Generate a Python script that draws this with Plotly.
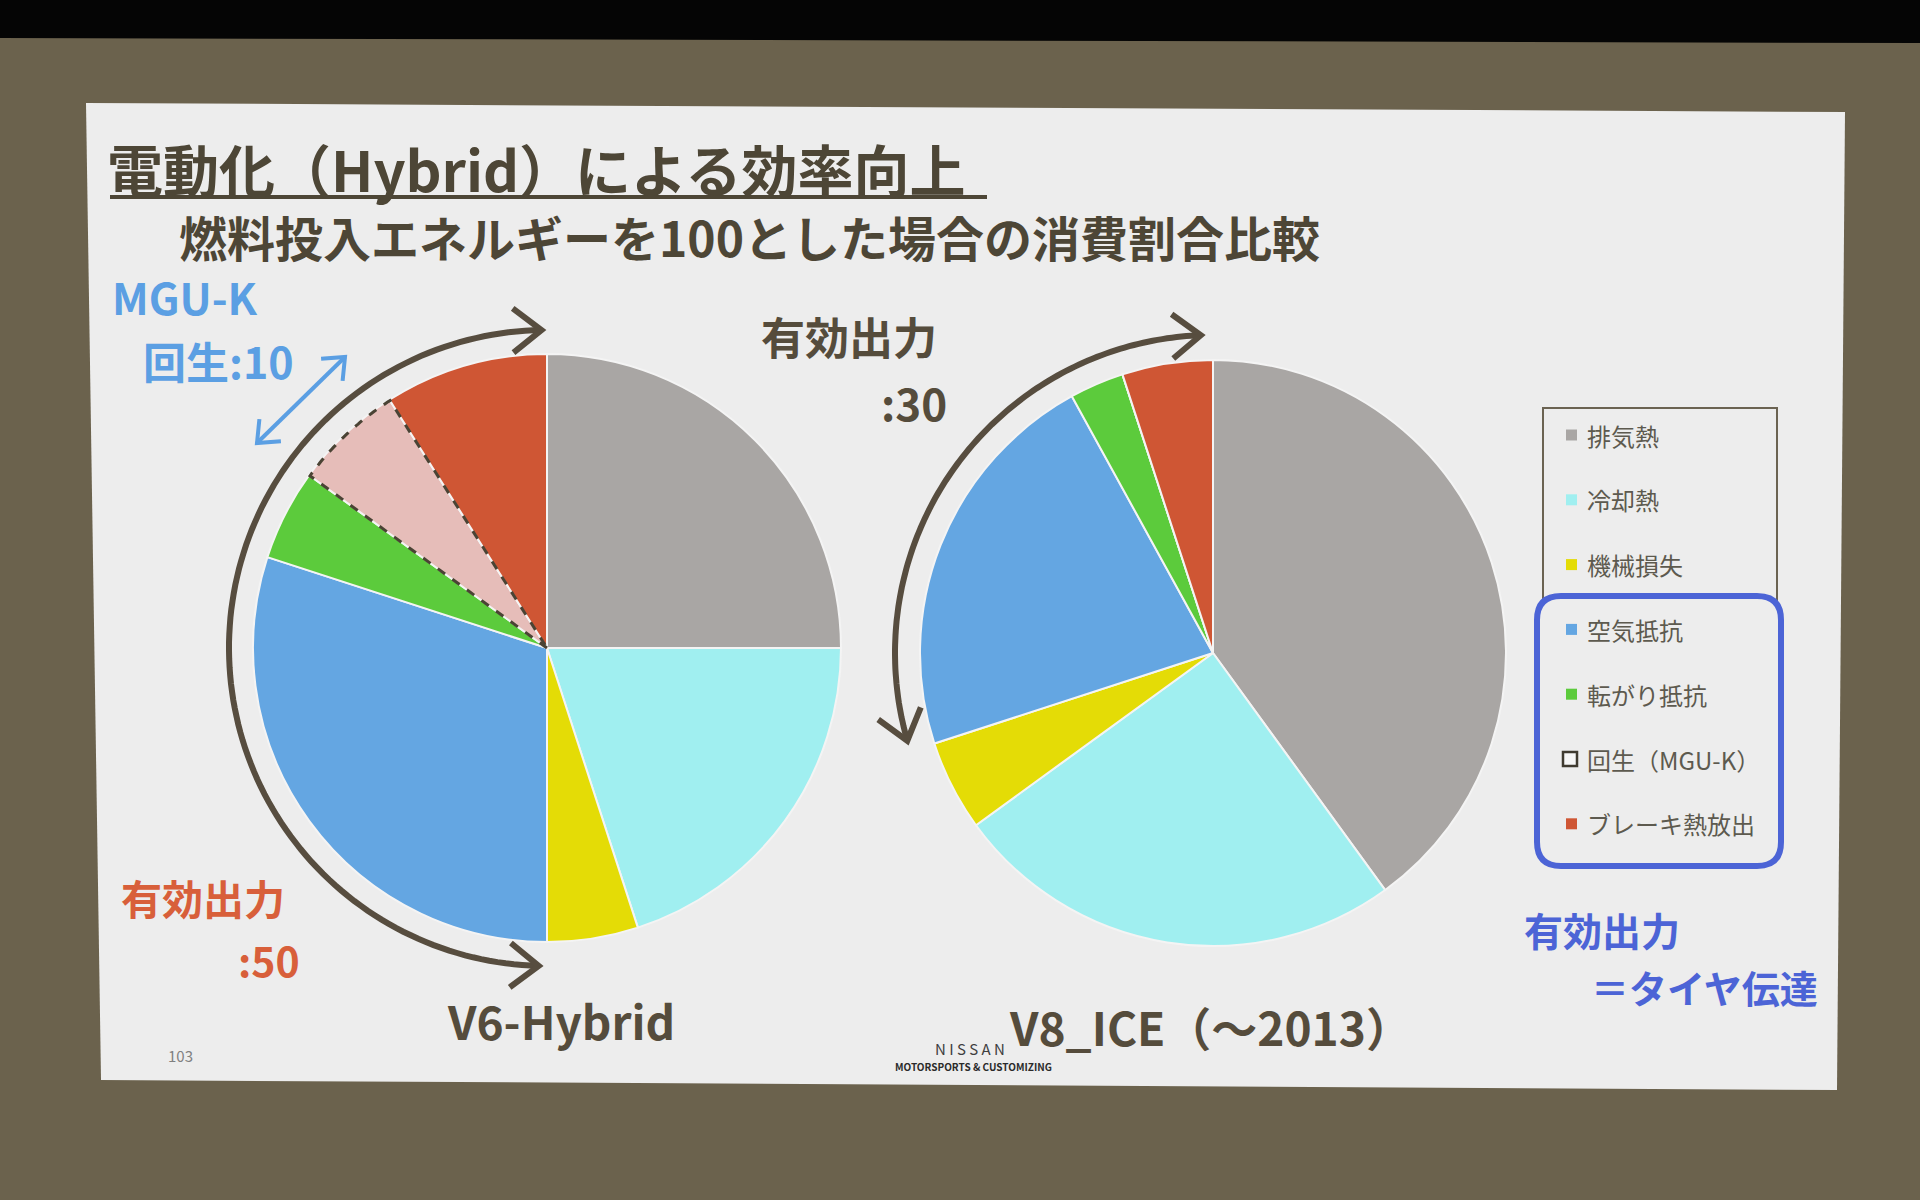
import numpy as np
import plotly.graph_objects as go

# ---------------- data ----------------
categories = ["排気熱", "冷却熱", "機械損失", "空気抵抗", "転がり抵抗", "回生（MGU-K）", "ブレーキ熱放出"]
v6_values = [25, 20, 5, 30, 5, 6, 9]
v8_values = [40, 25, 5, 22, 3, 0, 5]
pie_names = ["V6-Hybrid", "V8_ICE（～2013）"]
title_text = "電動化（Hybrid）による効率向上"
subtitle_text = "燃料投入エネルギーを100とした場合の消費割合比較"

# ---------------- style ----------------
W, H = 1920, 1200
FONT = "Noto Sans CJK JP"
slice_colors = ["#a9a6a4", "#a0eff0", "#e4dc06", "#64a6e2", "#5ccb3c", "#e6bdb9", "#cf5634"]
legend_marker_colors = ["#a9a6a4", "#a0eff0", "#e4dc06", "#64a6e2", "#5ccb3c", None, "#cf5634"]
BROWN = "#6b624d"
SLIDE = "#ededed"
DARK = "#554c3c"
ARC = "#574d3f"
ORANGE = "#d85f3a"
LBLUE = "#5b9fe3"
RBLUE = "#4c64d6"

v6_c, v6_r = (547, 648), 294
v8_c, v8_r = (1213, 653), 293


def dom(c, r):
    return dict(x=[(c[0] - r) / W, (c[0] + r) / W], y=[1 - (c[1] + r) / H, 1 - (c[1] - r) / H])


fig = go.Figure()
for vals, c, r in [(v6_values, v6_c, v6_r), (v8_values, v8_c, v8_r)]:
    fig.add_trace(go.Pie(
        labels=categories, values=vals, sort=False, direction="clockwise", rotation=0,
        marker=dict(colors=slice_colors, line=dict(color="#f4f4f4", width=2)),
        textinfo="none", hoverinfo="label+value", showlegend=False, domain=dom(c, r),
    ))

shapes = []
annotations = []


def pt(c, r, a):
    a = np.radians(a)
    return c[0] + r * np.sin(a), c[1] - r * np.cos(a)


def poly(points, close=False):
    s = "M " + " L ".join(f"{x:.1f},{y:.1f}" for x, y in points)
    return s + (" Z" if close else "")


def chevron(tip, d, length=36, half=38, color=ARC, width=6):
    d = np.array(d, float)
    d /= np.linalg.norm(d)
    arms = []
    for s in (1, -1):
        t = np.radians(s * half)
        rot = np.array([d[0] * np.cos(t) - d[1] * np.sin(t), d[0] * np.sin(t) + d[1] * np.cos(t)])
        arms.append((tip[0] - length * rot[0], tip[1] - length * rot[1]))
    shapes.append(dict(type="path", xref="x", yref="y", path=poly([arms[0], tip, arms[1]]),
                       line=dict(color=color, width=width)))


def arc_arrow(c, r, a0, a1, color=ARC, width=6):
    angs = np.linspace(a0, a1, 120)
    pts = [pt(c, r, a) for a in angs]
    shapes.append(dict(type="path", xref="x", yref="y", path=poly(pts), line=dict(color=color, width=width)))
    ra0 = np.radians(a0)
    chevron(pts[0], (np.cos(ra0), np.sin(ra0)), color=color, width=width)
    ra1 = np.radians(a1)
    chevron(pts[-1], (-np.cos(ra1), -np.sin(ra1)), color=color, width=width)


def rrect(x0, y0, x1, y1, rad):
    return (f"M {x0+rad},{y0} L {x1-rad},{y0} Q {x1},{y0} {x1},{y0+rad} L {x1},{y1-rad} "
            f"Q {x1},{y1} {x1-rad},{y1} L {x0+rad},{y1} Q {x0},{y1} {x0},{y1-rad} "
            f"L {x0},{y0+rad} Q {x0},{y0} {x0+rad},{y0} Z")


# background: black band + slide
shapes.append(dict(type="path", xref="x", yref="y", layer="below",
                   path="M 0,0 L 1920,0 L 1920,43 L 0,38 Z", fillcolor="#050505", line=dict(width=0)))
shapes.append(dict(type="path", xref="x", yref="y", layer="below",
                   path="M 86,103 L 1845,112 L 1837,1090 L 101,1080 Z", fillcolor=SLIDE, line=dict(width=0)))

# title underline
shapes.append(dict(type="line", xref="x", yref="y", x0=110, x1=987, y0=197, y1=197,
                   line=dict(color="#4d4636", width=4)))

# dashed outline of the regeneration slice (from data)
tot = sum(v6_values)
k = categories.index("回生（MGU-K）")
a_start = 360 * sum(v6_values[:k]) / tot
a_end = 360 * sum(v6_values[:k + 1]) / tot
wedge = [v6_c] + [pt(v6_c, v6_r - 1, a) for a in np.linspace(a_start, a_end, 40)]
shapes.append(dict(type="path", xref="x", yref="y", path=poly(wedge, close=True),
                   line=dict(color="#4a4334", width=3, dash="dash")))

# arc arrows
arc_arrow(v6_c, 318, 359, 181.5)
arc_arrow(v8_c, 318, 357.8, 254)

# MGU-K blue double arrow
p0, p1 = (257, 443), (345, 357)
shapes.append(dict(type="line", xref="x", yref="y", x0=p0[0], y0=p0[1], x1=p1[0], y1=p1[1],
                   line=dict(color=LBLUE, width=4)))
chevron(p1, (p1[0] - p0[0], p1[1] - p0[1]), length=24, half=40, color=LBLUE, width=4)
chevron(p0, (p0[0] - p1[0], p0[1] - p1[1]), length=24, half=40, color=LBLUE, width=4)

# legend boxes
shapes.append(dict(type="rect", xref="x", yref="y", x0=1543, x1=1777, y0=408, y1=850,
                   line=dict(color="#6b6352", width=2), fillcolor="rgba(0,0,0,0)"))
shapes.append(dict(type="path", xref="x", yref="y", path=rrect(1537, 596, 1781, 866, 24),
                   line=dict(color=RBLUE, width=6), fillcolor=SLIDE))

leg_y0, leg_dy = 435, 64.8
for i, (cat, col) in enumerate(zip(categories, legend_marker_colors)):
    yy = leg_y0 + i * leg_dy
    if col is None:
        shapes.append(dict(type="rect", xref="x", yref="y", x0=1563, x1=1577, y0=yy - 7, y1=yy + 7,
                           line=dict(color="#3f3a30", width=2.5), fillcolor="#f6f6f6"))
    else:
        shapes.append(dict(type="rect", xref="x", yref="y", x0=1566, x1=1577, y0=yy - 5.5, y1=yy + 5.5,
                           line=dict(width=0), fillcolor=col))
    annotations.append(dict(x=1585, y=yy, xref="x", yref="y", text=cat, showarrow=False,
                            xanchor="left", yanchor="middle",
                            font=dict(family=FONT, size=24, color="#5d5a4f")))


def txt(x, y, s, size, color, anchor="left", bold=True, yanchor="middle"):
    annotations.append(dict(x=x, y=y, xref="x", yref="y", text=(f"<b>{s}</b>" if bold else s),
                            showarrow=False, xanchor=anchor, yanchor=yanchor, borderpad=0,
                            font=dict(family=FONT, size=size, color=color)))


txt(106, 167, title_text, 56, "#4d4636")
txt(178, 236, subtitle_text, 48, "#4d4636")
# two-line labels: boxes stacked so they touch without overlapping
txt(111, 328, "MGU-K", 43, LBLUE, yanchor="bottom")
txt(142, 328, "回生:10", 43, LBLUE, yanchor="top")
txt(760, 369, "有効出力", 44, DARK, yanchor="bottom")
txt(880, 369, ":30", 44, DARK, yanchor="top")
txt(120, 928, "有効出力", 41, ORANGE, yanchor="bottom")
txt(237, 928, ":50", 41, ORANGE, yanchor="top")
txt(1523, 958, "有効出力", 39, RBLUE, yanchor="bottom")
txt(1590, 958, "＝タイヤ伝達", 38, RBLUE, yanchor="top")
txt(561, 1020, pie_names[0], 46, DARK, anchor="center")
txt(1210, 1026, pie_names[1], 46, DARK, anchor="center")
txt(180, 1055, "103", 15, "#808080", anchor="center", bold=False)
txt(970, 1048, "N I S S A N", 15, "#3f3f3f", anchor="center", bold=False)
txt(973, 1066, "MOTORSPORTS &amp; CUSTOMIZING", 10, "#2a2a2a", anchor="center")

fig.update_layout(
    width=W, height=H, margin=dict(l=0, r=0, t=0, b=0),
    paper_bgcolor=BROWN, plot_bgcolor=BROWN,
    xaxis=dict(range=[0, W], visible=False, fixedrange=True),
    yaxis=dict(range=[H, 0], visible=False, fixedrange=True),
    shapes=shapes, annotations=annotations, showlegend=False,
)
fig.write_html("out.html")
